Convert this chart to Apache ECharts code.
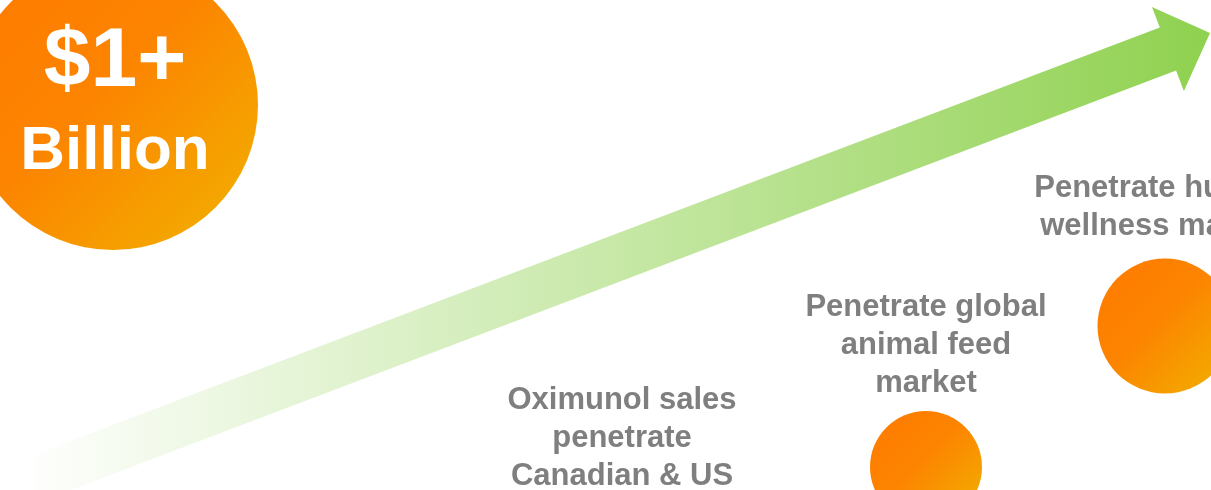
<!DOCTYPE html>
<html>
<head>
<meta charset="utf-8">
<style>
  html, body { margin: 0; padding: 0; background: #ffffff; }
  #chart { width: 1211px; height: 490px; }
</style>
<script src="https://cdn.jsdelivr.net/npm/echarts@6/dist/echarts.min.js"></script>
</head>
<body>
<div id="chart"></div>
<script>
// ---- data ----
const milestoneLabels = [
  'Oximunol sales\npenetrate\nCanadian & US',
  'Penetrate global\nanimal feed\nmarket',
  'Penetrate human\nwellness market'
];
const milestoneProgress = [622, 926, 1165];   // position along the growth path
const milestoneLevel = [-58, 23, 164];         // level of each milestone bubble
const labelProgress = [622, 926, 1160];
const labelLevel = [52, 145, 283];
const goalLines = ['$1+', 'Billion'];
const goalPoint = [113, 385];
const arrowStart = [31, 9.5];
const arrowTip = [1210, 457];

const FONT = '"Liberation Sans", Arial, Helvetica, sans-serif';
const bubbleSizes = [90, 112, 135];

function orangeGradient() {
  return new echarts.graphic.LinearGradient(0, 0, 1, 1, [
    { offset: 0, color: '#ff7a00' },
    { offset: 0.45, color: '#fc8400' },
    { offset: 1, color: '#f1b300' }
  ]);
}

const chart = echarts.init(document.getElementById('chart'), null, { renderer: 'canvas' });

const option = {
  animation: false,
  backgroundColor: '#ffffff',
  grid: { left: 0, right: 0, top: 0, bottom: 0 },
  xAxis: { type: 'value', min: 0, max: 1211, show: false },
  yAxis: { type: 'value', min: 0, max: 490, show: false },
  series: [
    {
      type: 'custom',
      silent: true,
      z: 1,
      data: [[arrowStart[0], arrowStart[1], arrowTip[0], arrowTip[1]]],
      renderItem: function (params, api) {
        const s = api.coord([api.value(0), api.value(1)]);
        const t = api.coord([api.value(2), api.value(3)]);
        const dx = t[0] - s[0], dy = t[1] - s[1];
        const len = Math.sqrt(dx * dx + dy * dy);
        const d = [dx / len, dy / len];
        const n = [-d[1], d[0]];
        const sw = 22.9, hw = 45, hl = 45;
        const b = [t[0] - d[0] * hl, t[1] - d[1] * hl];
        const p = (o, k) => [o[0] + n[0] * k, o[1] + n[1] * k];
        const pts = [p(s, sw), p(b, sw), p(b, hw), t, p(b, -hw), p(b, -sw), p(s, -sw)];
        return {
          type: 'polygon',
          shape: { points: pts },
          style: {
            fill: new echarts.graphic.LinearGradient(0, 0, 1, 0, [
              { offset: 0, color: '#ffffff' },
              { offset: 1, color: '#8fd14f' }
            ])
          }
        };
      }
    },
    {
      type: 'scatter',
      silent: true,
      clip: false,
      z: 2,
      symbol: 'circle',
      symbolSize: function (v, p) { return bubbleSizes[p.dataIndex]; },
      itemStyle: { color: orangeGradient(), opacity: 1 },
      data: milestoneProgress.map((x, i) => [x, milestoneLevel[i]])
    },
    {
      type: 'scatter',
      silent: true,
      clip: false,
      z: 2,
      symbol: 'circle',
      symbolSize: 290,
      itemStyle: { color: orangeGradient(), opacity: 1 },
      label: {
        show: true,
        position: 'inside',
        offset: [2, 2],
        opacity: 1,
        formatter: '{a|' + goalLines[0] + '}\n{b|' + goalLines[1] + '}',
        rich: {
          a: { fontFamily: FONT, fontWeight: 'bold', fontSize: 84, lineHeight: 89, color: '#ffffff', align: 'center' },
          b: { fontFamily: FONT, fontWeight: 'bold', fontSize: 62, lineHeight: 89, color: '#ffffff', align: 'center' }
        }
      },
      data: [goalPoint]
    },
    {
      type: 'scatter',
      silent: true,
      clip: false,
      z: 3,
      symbolSize: 0,
      itemStyle: { color: 'rgba(0,0,0,0)', opacity: 1 },
      label: {
        show: true,
        position: 'inside',
        opacity: 1,
        formatter: function (p) { return milestoneLabels[p.dataIndex]; },
        fontFamily: FONT,
        fontWeight: 'bold',
        fontSize: 31,
        lineHeight: 38,
        color: '#7f7f7f',
        align: 'center'
      },
      data: labelProgress.map((x, i) => [x, labelLevel[i]])
    }
  ]
};

chart.setOption(option);
</script>
</body>
</html>
